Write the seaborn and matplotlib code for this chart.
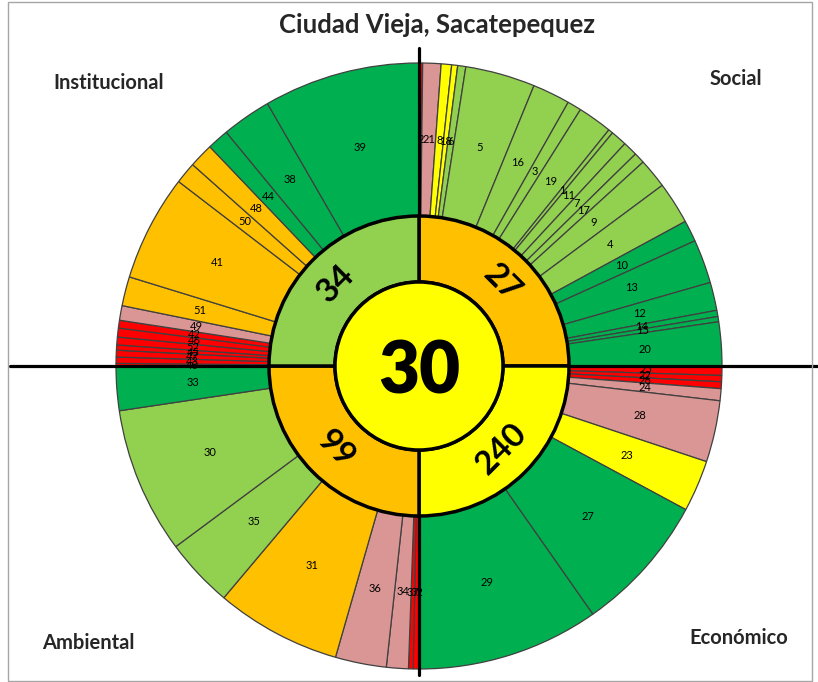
import matplotlib
matplotlib.use("Agg")
import matplotlib.pyplot as plt
from matplotlib.patches import Rectangle
import seaborn as sns

sns.set_theme(style="white")
plt.rcParams['font.family'] = ['Lato', 'DejaVu Sans']

# ---------------- data ----------------
title = "Ciudad Vieja, Sacatepequez"
center_value = "30"
center_color = "#FFFF00"

dimensions = ["Social", "Económico", "Ambiental", "Institucional"]
dimension_values = ["27", "240", "99", "34"]
dimension_colors = ["#FFC000", "#FFFF00", "#FFC000", "#92D050"]

level_colors = {"R": "#FF0000", "P": "#DA9694", "Y": "#FFFF00",
                "O": "#FFC000", "LG": "#92D050", "G": "#00B050"}

social_ids = [2, 21, 8, 18, 6, 5, 16, 3, 19, 1, 11, 7, 17, 9, 4, 10, 13, 12, 14, 15, 20]
social_weights = [0.7, 3.5, 2.0, 1.15, 1.55, 13.4, 7.2, 2.7, 6.6, 0.9, 3.1, 2.8, 2.1,
                  5.7, 8.1, 4.1, 8.4, 5.4, 1.2, 1.0, 8.4]
social_levels = ["R", "P", "Y", "Y", "LG", "LG", "LG", "LG", "LG", "LG", "LG", "LG",
                 "LG", "LG", "LG", "G", "G", "G", "G", "G", "G"]

economico_ids = [25, 22, 26, 24, 28, 23, 27, 29]
economico_weights = [1.8, 1.2, 1.3, 2.3, 11.8, 9.9, 26.7, 35.0]
economico_levels = ["R", "R", "R", "P", "P", "Y", "G", "G"]

ambiental_ids = [32, 37, 34, 36, 31, 35, 30, 33]
ambiental_weights = [1.1, 0.9, 4.2, 9.8, 24.1, 13.3, 28.1, 8.5]
ambiental_levels = ["R", "R", "P", "P", "O", "LG", "LG", "G"]

institucional_ids = [40, 43, 47, 45, 52, 46, 42, 49, 51, 41, 50, 48, 44, 38, 39]
institucional_weights = [0.5, 1.2, 1.3, 1.0, 1.5, 1.7, 1.5, 2.8, 5.6, 20.4, 4.15, 4.7,
                         4.15, 9.5, 30.0]
institucional_levels = ["R", "R", "R", "R", "R", "R", "R", "P", "O", "O", "O", "O",
                        "G", "G", "G"]

# ---------------- build ----------------
outer_ids = social_ids + economico_ids + ambiental_ids + institucional_ids
outer_weights = social_weights + economico_weights + ambiental_weights + institucional_weights
outer_levels = social_levels + economico_levels + ambiental_levels + institucional_levels
outer_colors = [level_colors[l] for l in outer_levels]

W, H = 818, 682
CX, CY = 419, 366           # centre in pixels (from top-left)
R_OUT, R_MID, R_IN = 303, 150, 84

fig = plt.figure(figsize=(W / 100, H / 100), dpi=100)
ax = fig.add_axes([0, 0, 1, 1])

# outer ring
wedges, texts = ax.pie(outer_weights, radius=R_OUT, colors=outer_colors,
                       labels=[str(i) for i in outer_ids],
                       labeldistance=(R_OUT + R_MID) / 2 / R_OUT,
                       startangle=90, counterclock=False,
                       wedgeprops=dict(width=R_OUT - R_MID, edgecolor="#404040", linewidth=0.9),
                       textprops=dict(fontsize=8, color="black"))
for t in texts:
    t.set_ha("center")
    t.set_va("center")

# middle ring (dimensions)
it = iter(dimension_values)
mid_w, mid_t, mid_a = ax.pie([1, 1, 1, 1], radius=R_MID, colors=dimension_colors,
                             startangle=90, counterclock=False,
                             autopct=lambda p: next(it),
                             pctdistance=(R_MID + R_IN) / 2 / R_MID,
                             wedgeprops=dict(width=R_MID - R_IN, edgecolor="black", linewidth=2.5),
                             textprops=dict(fontsize=24, fontweight="bold", color="black"))
for a, rot in zip(mid_a, [-45, 45, -45, 45]):
    a.set_rotation(rot)
for w in mid_w:
    w.set_zorder(4)
for a in mid_a:
    a.set_zorder(6)

# cross lines
ax.axhline(0, xmin=10 / W, xmax=1, color="black", linewidth=2.3, zorder=3)
ax.axvline(0, ymin=(H - 675) / H, ymax=(H - 48) / H, color="black", linewidth=2.3, zorder=3)

# centre circle
c_w, c_t, c_a = ax.pie([1], radius=R_IN, colors=[center_color],
                       autopct=lambda p: center_value, pctdistance=0,
                       wedgeprops=dict(edgecolor="black", linewidth=2.5),
                       textprops=dict(fontsize=51, fontweight="heavy", color="black"))
for w in c_w:
    w.set_zorder(5)
for a in c_a:
    a.set_zorder(6)
    a.set_va("center_baseline")

ax.set_xlim(-CX, W - CX)
ax.set_ylim(-(H - CY), CY)
ax.set_aspect("equal")
ax.axis("off")

# texts
def fpos(x, y):
    return x / W, 1 - y / H

fig.text(*fpos(437, 25), title, ha="center", va="center", fontsize=18.5, fontweight="bold")
fig.text(*fpos(109, 83), "Institucional", ha="center", va="center", fontsize=14.5, fontweight="bold")
fig.text(*fpos(736, 79), "Social", ha="center", va="center", fontsize=14.5, fontweight="bold")
fig.text(*fpos(88, 643), "Ambiental", ha="center", va="center", fontsize=14.5, fontweight="bold")
fig.text(*fpos(739, 638), "Económico", ha="center", va="center", fontsize=14.5, fontweight="bold")

fig.patches.append(Rectangle((8 / W, 1 / H), 804 / W, 679 / H, transform=fig.transFigure,
                             fill=False, edgecolor="#A6A6A6", linewidth=1))

fig.savefig("out.png", dpi=100)
